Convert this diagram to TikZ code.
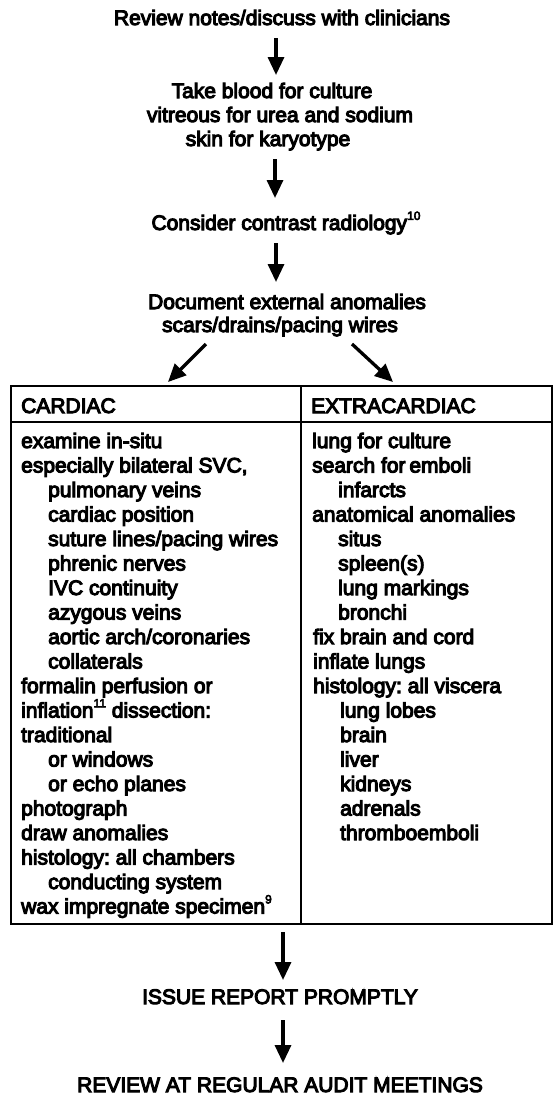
\documentclass[tikz,border=0pt]{standalone}
\usepackage{fontspec}
\setmainfont{Liberation Sans}[FakeBold=5]
\usetikzlibrary{arrows.meta}
\newcommand{\supnum}[1]{\raisebox{0.48em}{\fontsize{12}{12}\selectfont #1}}
\frenchspacing
\begin{document}
\begin{tikzpicture}[x=1pt,y=-1pt,
  txt/.style={inner sep=0pt,font=\fontsize{21}{24}\selectfont},
  ctr/.style={txt,anchor=base},
  lft/.style={txt,anchor=base west},
  bigarrow/.style={line width=3.3pt,-{Triangle[length=18pt,width=16pt]}},
  box/.style={line width=2.2pt}]
\useasboundingbox (0,0) rectangle (554,1098);
\fill[white] (0,0) rectangle (554,1098);

% top flow
\node[ctr] (n1) at (282,25) {Review notes/discuss with clinicians};
\node[ctr] (n2a) at (272,98) {Take blood for culture};
\node[ctr] (n2b) at (280,122) {vitreous for urea and sodium};
\node[ctr] (n2c) at (268,146) {skin for karyotype};
\node[ctr] (n3) at (286,230) {Consider contrast radiology\supnum{10}};
\node[ctr] (n4a) at (287,309) {Document external anomalies};
\node[ctr] (n4b) at (280,332) {scars/drains/pacing wires};

\coordinate (a1s) at (276,38); \coordinate (a1e) at (276,75);
\coordinate (a2s) at (275,159); \coordinate (a2e) at (275,198);
\coordinate (a3s) at (276,243); \coordinate (a3e) at (276,282);
\coordinate (dls) at (206,344); \coordinate (dle) at (168,382);
\coordinate (drs) at (352,344); \coordinate (dre) at (393,382);
\draw[bigarrow] (a1s) -- (a1e);
\draw[bigarrow] (a2s) -- (a2e);
\draw[bigarrow] (a3s) -- (a3e);
\draw[bigarrow] (dls) -- (dle);
\draw[bigarrow] (drs) -- (dre);

% table
\coordinate (tl) at (11,386); \coordinate (br) at (552,924);
\coordinate (dt) at (301,386); \coordinate (db) at (301,924);
\coordinate (hl) at (11,422); \coordinate (hr) at (552,422);
\draw[box] (tl) rectangle (br);
\draw[box] (hl) -- (hr);
\draw[box] (dt) -- (db);

\node[lft] (hc) at (21,413) {CARDIAC};
\node[lft] (he) at (311,413) {EXTRACARDIAC};

% cardiac column
\node[lft] (c0) at (21,448) {examine in-situ};
\node[lft] (c1) at (21,472.5) {especially bilateral SVC,};
\node[lft] (c2) at (48,497) {pulmonary veins};
\node[lft] (c3) at (48,521.5) {cardiac position};
\node[lft] (c4) at (48,546) {suture lines/pacing wires};
\node[lft] (c5) at (48,570.5) {phrenic nerves};
\node[lft] (c6) at (48,595) {IVC continuity};
\node[lft] (c7) at (48,619.5) {azygous veins};
\node[lft] (c8) at (48,644) {aortic arch/coronaries};
\node[lft] (c9) at (48,668.5) {collaterals};
\node[lft] (c10) at (21,693) {formalin perfusion or};
\node[lft] (c11) at (21,717.5) {inflation\supnum{11} dissection:};
\node[lft] (c12) at (21,742) {traditional};
\node[lft] (c13) at (48,766.5) {or windows};
\node[lft] (c14) at (48,791) {or echo planes};
\node[lft] (c15) at (21,815.5) {photograph};
\node[lft] (c16) at (21,840) {draw anomalies};
\node[lft] (c17) at (21,864.5) {histology: all chambers};
\node[lft] (c18) at (48,889) {conducting system};
\node[lft] (c19) at (21,913.5) {wax impregnate specimen\supnum{9}};

% extracardiac column
\node[lft] (e0) at (312,448) {lung for culture};
\node[lft] (e1) at (312,472.5) {search for\hspace{-2pt} emboli};
\node[lft] (e2) at (338,497) {infarcts};
\node[lft] (e3) at (312,521.5) {anatomical anomalies};
\node[lft] (e4) at (338,546) {situs};
\node[lft] (e5) at (338,570.5) {spleen(s)};
\node[lft] (e6) at (338,595) {lung markings};
\node[lft] (e7) at (338,619.5) {bronchi};
\node[lft] (e8) at (313,644) {fix brain and cord};
\node[lft] (e9) at (313,668.5) {inflate lungs};
\node[lft] (e10) at (313,693) {histology: all viscera};
\node[lft] (e11) at (340,717.5) {lung lobes};
\node[lft] (e12) at (340,742) {brain};
\node[lft] (e13) at (340,766.5) {liver};
\node[lft] (e14) at (340,791) {kidneys};
\node[lft] (e15) at (340,815.5) {adrenals};
\node[lft] (e16) at (340,840) {thromboemboli};

% bottom flow
\coordinate (b1s) at (283,932); \coordinate (b1e) at (283,980);
\coordinate (b2s) at (283,1020); \coordinate (b2e) at (283,1063);
\draw[bigarrow] (b1s) -- (b1e);
\draw[bigarrow] (b2s) -- (b2e);
\node[ctr] (r1) at (280,1004) {ISSUE REPORT PROMPTLY};
\node[ctr] (r2) at (280,1092) {REVIEW AT REGULAR AUDIT MEETINGS};
\end{tikzpicture}
\end{document}
